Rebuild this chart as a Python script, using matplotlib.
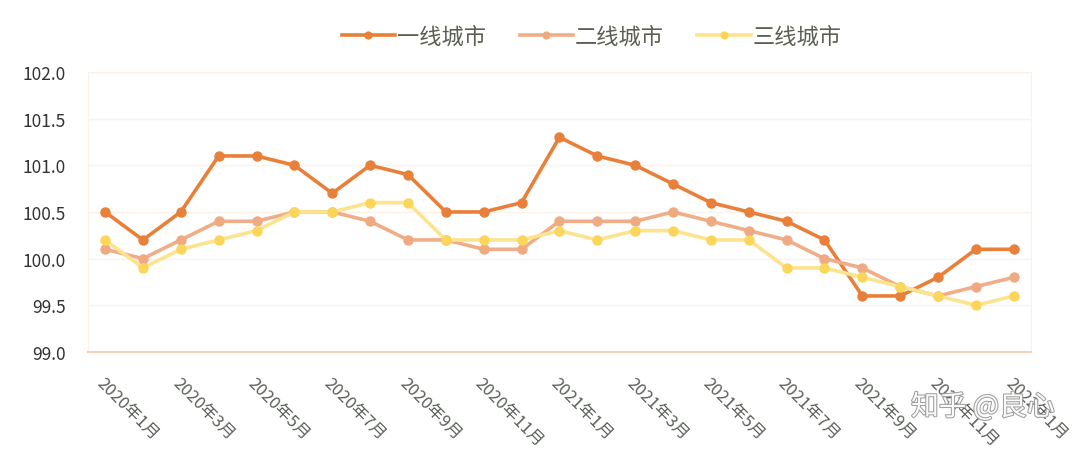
import matplotlib.pyplot as plt
import matplotlib.patheffects as pe

plt.rcParams["font.family"] = ["Noto Sans CJK SC", "DejaVu Sans"]

months = [f"{y}年{m}月" for y, m in
          [(2020, i) for i in range(1, 13)] + [(2021, i) for i in range(1, 13)] + [(2022, 1)]]
tier1 = [100.5, 100.2, 100.5, 101.1, 101.1, 101.0, 100.7, 101.0, 100.9, 100.5, 100.5, 100.6,
         101.3, 101.1, 101.0, 100.8, 100.6, 100.5, 100.4, 100.2, 99.6, 99.6, 99.8, 100.1, 100.1]
tier2 = [100.1, 100.0, 100.2, 100.4, 100.4, 100.5, 100.5, 100.4, 100.2, 100.2, 100.1, 100.1,
         100.4, 100.4, 100.4, 100.5, 100.4, 100.3, 100.2, 100.0, 99.9, 99.7, 99.6, 99.7, 99.8]
tier3 = [100.2, 99.9, 100.1, 100.2, 100.3, 100.5, 100.5, 100.6, 100.6, 100.2, 100.2, 100.2,
         100.3, 100.2, 100.3, 100.3, 100.2, 100.2, 99.9, 99.9, 99.8, 99.7, 99.6, 99.5, 99.6]
series = [("一线城市", tier1, "#e8803a", "#e8803a"),
          ("二线城市", tier2, "#f0ae88", "#efaa82"),
          ("三线城市", tier3, "#fde38e", "#fcd65a")]
yticks = [99.0, 99.5, 100.0, 100.5, 101.0, 101.5, 102.0]

fig = plt.figure(figsize=(10.8, 4.56), dpi=100)
ax = fig.add_axes([0.0815, 0.226, 0.873, 0.614])

x = list(range(len(months)))
handles = []
for name, vals, lc, mc in series:
    h, = ax.plot(x, vals, color=lc, linewidth=2.6, marker="o", markersize=6.5,
                 markerfacecolor=mc, markeredgecolor=mc, label=name, solid_joinstyle="round")
    handles.append(h)

ax.set_xlim(-0.45, len(months) - 1 + 0.45)
ax.set_ylim(99.0, 102.0)
ax.set_yticks(yticks, [f"{v:.1f}" for v in yticks])
ax.set_xticks(x[::2], months[::2])
for lab in ax.get_xticklabels():
    lab.set_rotation(-45)
    lab.set_ha("left")
    lab.set_va("top")
    lab.set_rotation_mode("anchor")
ax.tick_params(axis="x", length=0, pad=16, labelsize=12, labelcolor="#5a5f58")
ax.tick_params(axis="y", length=0, pad=16, labelsize=12.5, labelcolor="#333333")

ax.grid(axis="y", color="#fdf2e8", linewidth=1)
ax.set_axisbelow(True)
for side in ("left", "right", "top"):
    ax.spines[side].set_color("#fdf0e6")
ax.spines["bottom"].set_color("#f3d2b8")
ax.spines["bottom"].set_linewidth(1.5)

leg = fig.legend(handles=handles, loc="center", bbox_to_anchor=(0.548, 0.918), ncol=3,
                 frameon=False, fontsize=16, handlelength=2.4, handletextpad=0.1,
                 columnspacing=1.5, markerscale=0.75)
for t in leg.get_texts():
    t.set_color("#5a5f52")

fig.text(0.91, 0.105, "知乎 @良心", fontsize=20, color="white", alpha=0.95, ha="center", va="center",
         path_effects=[pe.withStroke(linewidth=1.5, foreground="#9a9a9a")])

fig.savefig("out.png", dpi=100, facecolor="white")
